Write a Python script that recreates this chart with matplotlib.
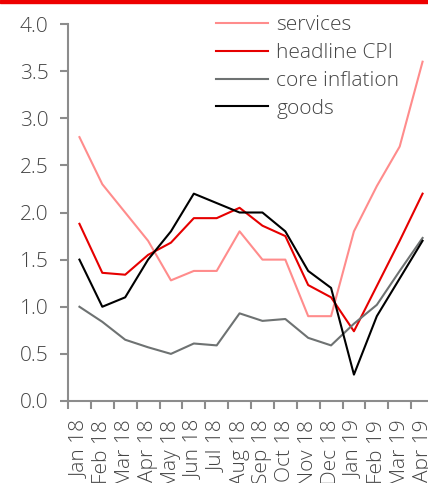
import matplotlib
matplotlib.use("Agg")
import matplotlib.pyplot as plt
from matplotlib.patches import Rectangle

months = ["Jan 18", "Feb 18", "Mar 18", "Apr 18", "May 18", "Jun 18", "Jul 18", "Aug 18",
          "Sep 18", "Oct 18", "Nov 18", "Dec 18", "Jan 19", "Feb 19", "Mar 19", "Apr 19"]
services = [2.8, 2.3, 2.0, 1.7, 1.28, 1.38, 1.38, 1.8, 1.5, 1.5, 0.9, 0.9, 1.8, 2.28, 2.7, 3.6]
headline = [1.88, 1.36, 1.34, 1.55, 1.68, 1.94, 1.94, 2.05, 1.86, 1.75, 1.23, 1.1, 0.74, 1.22, 1.7, 2.2]
core = [1.0, 0.84, 0.65, 0.57, 0.5, 0.61, 0.59, 0.93, 0.85, 0.87, 0.67, 0.59, 0.82, 1.02, 1.38, 1.73]
goods = [1.5, 1.0, 1.1, 1.5, 1.8, 2.2, 2.1, 2.0, 2.0, 1.8, 1.38, 1.2, 0.28, 0.9, 1.3, 1.7]
yticks = [0.0, 0.5, 1.0, 1.5, 2.0, 2.5, 3.0, 3.5, 4.0]

plt.rcParams['font.family'] = ['Open Sans', 'DejaVu Sans']
plt.rcParams['font.weight'] = 'light'
txt = '#444444'
spine = '#8c8c8c'

fig = plt.figure(figsize=(4.28, 4.83), dpi=100)
fig.patches.append(Rectangle((0, 1 - 3/483), 1, 3/483, transform=fig.transFigure,
                             color='#ee0000', zorder=10))
ax = fig.add_axes([68/428, 1 - 401/483, 366/428, (401 - 24)/483])

x = list(range(len(months)))
ax.plot(x, services, color='#ff8c8c', lw=1.5, label='services')
ax.plot(x, headline, color='#e60000', lw=1.5, label='headline CPI')
ax.plot(x, core, color='#6e7272', lw=1.5, label='core inflation')
ax.plot(x, goods, color='#000000', lw=1.5, label='goods')

ax.set_xlim(-0.5, len(months) - 0.5)
ax.set_ylim(0, 4.0)
ax.set_yticks(yticks)
ax.set_yticklabels([f"{v:.1f}" for v in yticks])
ax.set_xticks(x)
ax.set_xticklabels(months, rotation=90)
ax.set_xticks([i - 0.5 for i in range(len(months) + 1)], minor=True)
ax.tick_params(axis='x', which='major', length=0, pad=13.5, labelsize=15, labelcolor=txt)
ax.tick_params(axis='x', which='minor', length=6, width=1.5, color=spine)
ax.tick_params(axis='y', length=6, width=1.5, color=spine, labelsize=15, labelcolor=txt, pad=8)
for s in ['top', 'right']:
    ax.spines[s].set_visible(False)
for s in ['left', 'bottom']:
    ax.spines[s].set_color(spine)
    ax.spines[s].set_linewidth(1.5)

leg = fig.legend(loc='upper left', bbox_to_anchor=(216/428, 1 - 15/483), frameon=False,
                 fontsize=15, handlelength=2.5, handletextpad=0.4, labelspacing=0.38,
                 borderpad=0, borderaxespad=0)
for t in leg.get_texts():
    t.set_color(txt)

fig.savefig('out.png', dpi=100)
